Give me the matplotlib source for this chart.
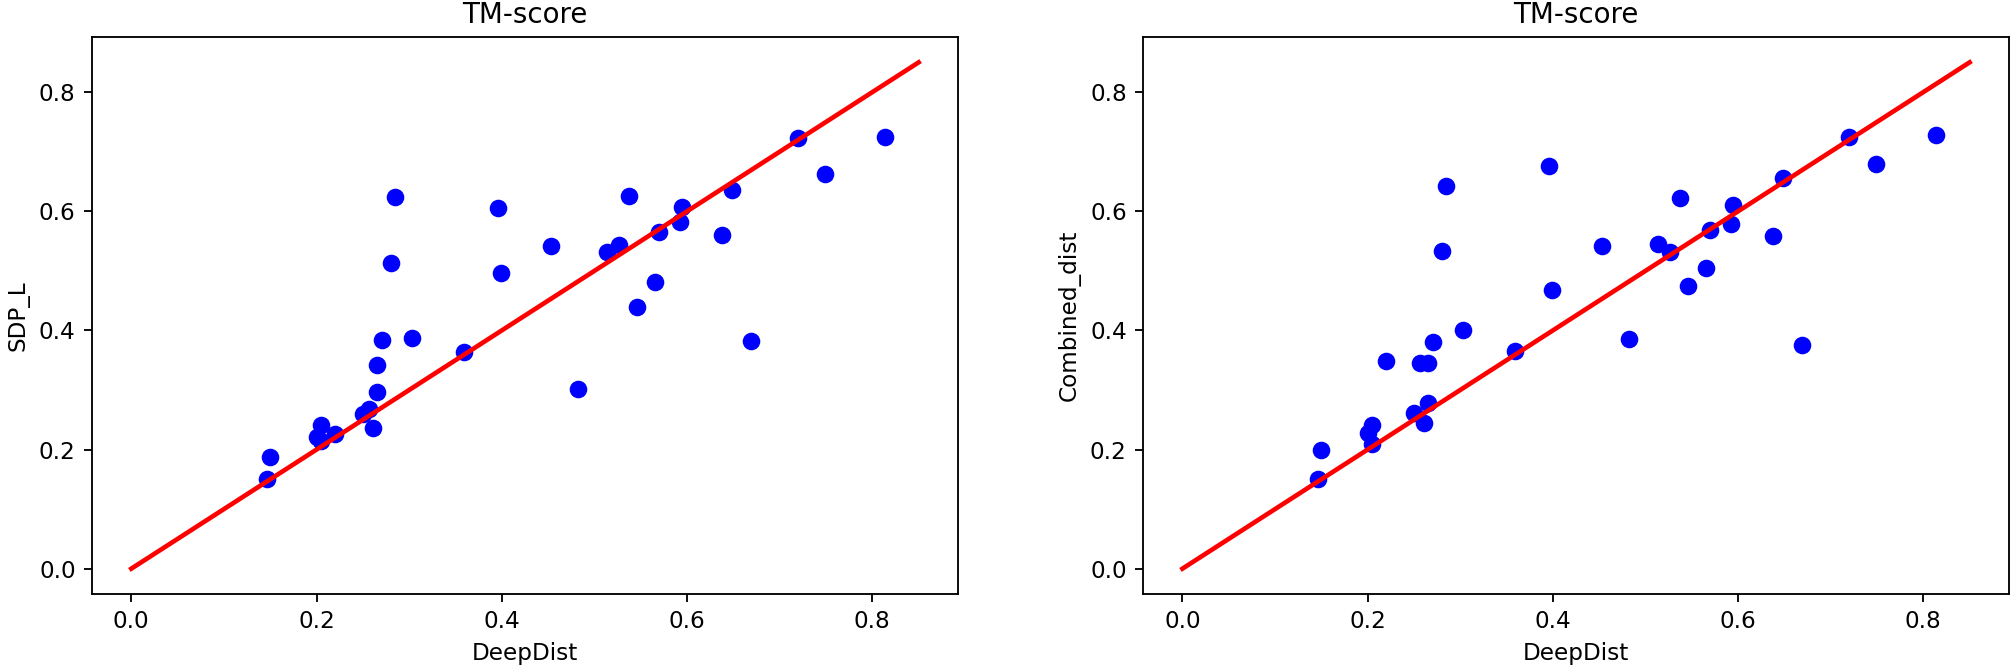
import matplotlib
matplotlib.use("Agg")
import matplotlib.pyplot as plt

deepdist = [0.146, 0.150, 0.200, 0.205, 0.205, 0.220, 0.250, 0.257, 0.261, 0.265,
            0.265, 0.271, 0.280, 0.285, 0.303, 0.359, 0.396, 0.399, 0.453, 0.482,
            0.514, 0.527, 0.537, 0.546, 0.565, 0.570, 0.592, 0.595, 0.638, 0.648,
            0.669, 0.720, 0.749, 0.814]

sdp_l = [0.151, 0.187, 0.221, 0.241, 0.214, 0.226, 0.259, 0.268, 0.236, 0.296,
         0.342, 0.384, 0.514, 0.624, 0.387, 0.364, 0.606, 0.496, 0.541, 0.301,
         0.532, 0.544, 0.625, 0.439, 0.482, 0.566, 0.582, 0.608, 0.560, 0.636,
         0.382, 0.723, 0.663, 0.725]

combined_dist = [0.151, 0.200, 0.227, 0.242, 0.209, 0.348, 0.261, 0.345, 0.244, 0.278,
                 0.345, 0.381, 0.534, 0.642, 0.400, 0.366, 0.676, 0.468, 0.542, 0.385,
                 0.545, 0.532, 0.622, 0.474, 0.505, 0.569, 0.578, 0.611, 0.559, 0.656,
                 0.375, 0.724, 0.679, 0.728]

diag = [0.0, 0.85]

DPI = 166.5
fig = plt.figure(figsize=(2011 / DPI, 666 / DPI), dpi=DPI)
plt.rcParams['font.size'] = 10

ax1 = fig.add_axes([0.0457, 0.1081, 0.4307, 0.8363])
ax2 = fig.add_axes([0.5684, 0.1081, 0.4306, 0.8363])

for ax, yvals, ylabel in [(ax1, sdp_l, "SDP_L"), (ax2, combined_dist, "Combined_dist")]:
    ax.plot(deepdist, yvals, 'o', color='blue', markersize=6.6)
    ax.plot(diag, diag, color='red', linewidth=2)
    ax.set_title("TM-score")
    ax.set_xlabel("DeepDist")
    ax.set_ylabel(ylabel)
    ax.set_xticks([0.0, 0.2, 0.4, 0.6, 0.8])
    ax.set_yticks([0.0, 0.2, 0.4, 0.6, 0.8])

fig.savefig("out.png", dpi=DPI)
